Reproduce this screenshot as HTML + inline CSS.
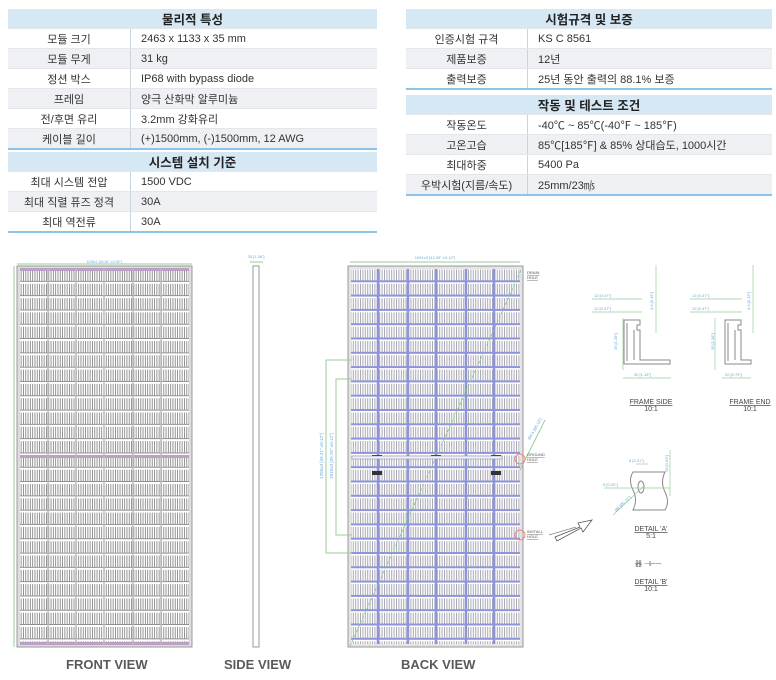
<!DOCTYPE html>
<html><head><meta charset="utf-8"><style>
body{margin:0;width:776px;height:680px;background:#fff;font-family:"Liberation Sans","Noto Sans CJK KR",sans-serif;position:relative;overflow:hidden}
table{position:absolute;border-collapse:collapse;font-size:11px;color:#333}
td{height:19px;padding:0;}
td.k{text-align:center;border-right:1px solid #c8d3dc}
td.v{padding-left:10px}
tr.s td{background:#eef0f3}
tr.h td{background:#d6e8f4;text-align:center;font-weight:bold;font-size:12.5px;height:19px;color:#222}
tr td{border-bottom:1px solid #e3e6ea}
tr.last td{border-bottom:2px solid #8cc3e6}
.lbl{position:absolute;font-weight:bold;font-size:13px;color:#5a5a5a;top:657px}
</style></head><body>
<table style="left:8px;top:9px;width:369px">
<tr class="h"><td colspan="2">물리적 특성</td></tr>
<tr><td class="k" style="width:122px">모듈 크기</td><td class="v">2463 x 1133 x 35 mm</td></tr>
<tr class="s"><td class="k">모듈 무게</td><td class="v">31 kg</td></tr>
<tr><td class="k">정션 박스</td><td class="v">IP68 with bypass diode</td></tr>
<tr class="s"><td class="k">프레임</td><td class="v">양극 산화막 알루미늄</td></tr>
<tr><td class="k">전/후면 유리</td><td class="v">3.2mm 강화유리</td></tr>
<tr class="s last"><td class="k">케이블 길이</td><td class="v">(+)1500mm, (-)1500mm, 12 AWG</td></tr>
</table>
<table style="left:8px;top:152px;width:369px">
<tr class="h"><td colspan="2">시스템 설치 기준</td></tr>
<tr><td class="k" style="width:122px">최대 시스템 전압</td><td class="v">1500 VDC</td></tr>
<tr class="s"><td class="k">최대 직렬 퓨즈 정격</td><td class="v">30A</td></tr>
<tr class="last"><td class="k">최대 역전류</td><td class="v">30A</td></tr>
</table>
<table style="left:406px;top:9px;width:366px">
<tr class="h"><td colspan="2">시험규격 및 보증</td></tr>
<tr><td class="k" style="width:121px">인증시험 규격</td><td class="v">KS C 8561</td></tr>
<tr class="s"><td class="k">제품보증</td><td class="v">12년</td></tr>
<tr class="last"><td class="k">출력보증</td><td class="v">25년 동안 출력의 88.1% 보증</td></tr>
</table>
<table style="left:406px;top:95px;width:366px">
<tr class="h"><td colspan="2">작동 및 테스트 조건</td></tr>
<tr><td class="k" style="width:121px">작동온도</td><td class="v">-40℃ ~ 85℃(-40℉ ~ 185℉)</td></tr>
<tr class="s"><td class="k">고온고습</td><td class="v">85℃[185℉] &amp; 85% 상대습도, 1000시간</td></tr>
<tr><td class="k">최대하중</td><td class="v">5400 Pa</td></tr>
<tr class="s last"><td class="k">우박시험(지름/속도)</td><td class="v">25mm/23㎧</td></tr>
</table>

<svg width="776" height="680" style="position:absolute;left:0;top:0" xmlns="http://www.w3.org/2000/svg">
<defs>
<pattern id="fv" width="2.3" height="14.3" patternUnits="userSpaceOnUse" y="268">
<rect width="2.3" height="14.3" fill="#fff"/><rect width="0.9" height="11.5" y="1.5" fill="#8a8a8a"/><rect width="2.3" height="0.8" y="13" fill="#777"/>
</pattern>
<pattern id="bv" width="2.4" height="14.3" patternUnits="userSpaceOnUse" y="268">
<rect width="2.4" height="14.3" fill="#fff"/><rect width="1" height="11.5" y="1.5" fill="#a8a8b2"/><rect width="2.4" height="2" y="12.3" fill="#8f94d8"/>
</pattern>
</defs>
<line x1="17" y1="264" x2="192" y2="264" stroke="#9c9" stroke-width="1"/>
<line x1="14" y1="266" x2="14" y2="647" stroke="#9c9"/>
<text x="104" y="263" font-size="3.5" fill="#6ad" text-anchor="middle">1133±2 [44.61" ±0.08"]</text>
<rect x="17" y="266" width="175" height="381" fill="#ddd" stroke="#999"/>
<rect x="20" y="269" width="169" height="375" fill="url(#fv)"/>
<rect x="20" y="268" width="169" height="3" fill="#b9a0c4"/>
<rect x="20" y="455" width="169" height="3" fill="#b9a0c4"/>
<rect x="20" y="642" width="169" height="3" fill="#b9a0c4"/>
<g stroke="#bbb" stroke-width="1.5"><line x1="48" y1="269" x2="48" y2="644"/><line x1="76" y1="269" x2="76" y2="644"/><line x1="104" y1="269" x2="104" y2="644"/><line x1="133" y1="269" x2="133" y2="644"/><line x1="161" y1="269" x2="161" y2="644"/></g>
<rect x="253" y="266" width="6" height="381" fill="#fff" stroke="#999"/>
<text x="256" y="258" font-size="4" fill="#6ad" text-anchor="middle">35 [1.38"]</text>
<line x1="250" y1="262" x2="263" y2="262" stroke="#9c9"/>
<line x1="350" y1="262" x2="520" y2="262" stroke="#9c9"/>
<text x="435" y="259" font-size="4" fill="#6ad" text-anchor="middle">1091±3 [42.95" ±0.12"]</text>
<rect x="348" y="266" width="175" height="381" fill="#e4e4e8" stroke="#999"/>
<rect x="351" y="269" width="169" height="375" fill="url(#bv)"/>
<g stroke="#8f94d8" stroke-width="2.5"><line x1="378" y1="269" x2="378" y2="644"/><line x1="408" y1="269" x2="408" y2="644"/><line x1="436" y1="269" x2="436" y2="644"/><line x1="466" y1="269" x2="466" y2="644"/><line x1="494" y1="269" x2="494" y2="644"/></g>
<line x1="350" y1="646" x2="522" y2="268" stroke="#7c7" stroke-dasharray="3 2" stroke-width="0.8"/>
<line x1="520" y1="470" x2="545" y2="420" stroke="#9c9"/>
<text x="530" y="440" font-size="4" fill="#6ad" transform="rotate(-60 530 440)">Ø4.5 [Ø0.18"]</text>
<g stroke="#9c9" fill="none"><polyline points="352,360 326,360 326,553 352,553"/><polyline points="352,379 336,379 336,535 352,535"/></g>
<text x="323" y="456" font-size="4.5" fill="#6ad" transform="rotate(-90 323 456)" text-anchor="middle">1250±3 [49.21" ±0.12"]</text>
<text x="333" y="456" font-size="4.5" fill="#6ad" transform="rotate(-90 333 456)" text-anchor="middle">1010±3 [39.76" ±0.12"]</text>
<g fill="#333"><rect x="372" y="455" width="10" height="4"/><rect x="431" y="455" width="10" height="4"/><rect x="491" y="455" width="10" height="4"/><rect x="372" y="471" width="10" height="4"/><rect x="491" y="471" width="10" height="4"/></g>
<rect x="352" y="456" width="150" height="3" fill="#eef" stroke="#888" stroke-width="0.5"/>
<circle cx="520" cy="459" r="5" fill="none" stroke="#e87" />
<circle cx="520" cy="535" r="5" fill="none" stroke="#e87"/>
<g font-size="4" fill="#555" text-decoration="underline"><text x="527" y="274">DRAIN</text><text x="527" y="279">HOLE</text><text x="527" y="456">GROUND</text><text x="527" y="461">HOLE</text><text x="527" y="533">INSTALL</text><text x="527" y="538">HOLE</text></g>
<line x1="549" y1="535" x2="576" y2="527" stroke="#555" stroke-width="0.6"/>
<polygon points="555,537 580,527 578,523 592,520 583,532 581,528 557,541" fill="none" stroke="#555" stroke-width="0.8"/>
<g stroke="#888" fill="none" stroke-width="1"><path d="M624,320 h16 v5 h-3 v5 h3 v30 h30 v4 h-46 z"/><path d="M627,323 v38 M634,330 v30"/></g>
<g stroke="#9c9" fill="none" stroke-width="0.7"><line x1="623" y1="318" x2="623" y2="370"/><line x1="623" y1="378" x2="671" y2="378"/><line x1="592" y1="299" x2="642" y2="299"/><line x1="592" y1="312" x2="642" y2="312"/><line x1="656" y1="265" x2="656" y2="333"/></g>
<g font-size="4" fill="#6ad"><text x="594" y="297">12 [0.47"]</text><text x="594" y="310">12 [0.47"]</text><text x="634" y="376">30 [1.18"]</text><text x="617" y="350" transform="rotate(-90 617 350)">35 [1.38"]</text><text x="653" y="310" transform="rotate(-90 653 310)">4.9 [0.19"]</text></g>
<g stroke="#888" fill="none" stroke-width="1"><path d="M725,320 h16 v5 h-3 v5 h3 v30 h10 v4 h-26 z"/><path d="M728,323 v38 M735,330 v30"/></g>
<g stroke="#9c9" fill="none" stroke-width="0.7"><line x1="715" y1="318" x2="715" y2="370"/><line x1="722" y1="378" x2="751" y2="378"/><line x1="690" y1="299" x2="742" y2="299"/><line x1="690" y1="312" x2="742" y2="312"/><line x1="753" y1="265" x2="753" y2="333"/></g>
<g font-size="4" fill="#6ad"><text x="692" y="297">12 [0.47"]</text><text x="692" y="310">12 [0.47"]</text><text x="725" y="376">20 [0.79"]</text><text x="714" y="350" transform="rotate(-90 714 350)">35 [1.38"]</text><text x="750" y="310" transform="rotate(-90 750 310)">4.9 [0.19"]</text></g>
<g font-size="7" fill="#444" text-anchor="middle"><text x="651" y="404" text-decoration="underline">FRAME SIDE</text><text x="651" y="411">10:1</text>
<text x="750" y="404" text-decoration="underline">FRAME END</text><text x="750" y="411">10:1</text>
<text x="651" y="531" text-decoration="underline">DETAIL 'A'</text><text x="651" y="538">5:1</text>
<text x="651" y="584" text-decoration="underline">DETAIL 'B'</text><text x="651" y="591">10:1</text></g>
<path d="M633,472 h32 q-5,10 0,20 q5,10 0,18 h-32 q5,-10 0,-20 q-5,-10 0,-18 z" fill="none" stroke="#888"/>
<ellipse cx="641" cy="487" rx="3" ry="6" fill="none" stroke="#888"/>
<g stroke="#9c9" stroke-width="0.7"><line x1="604" y1="488" x2="670" y2="488"/><line x1="670" y1="450" x2="670" y2="496"/><line x1="613" y1="515" x2="645" y2="485"/><line x1="636" y1="464" x2="648" y2="464"/></g>
<g font-size="4" fill="#6ad"><text x="603" y="486">5 [0.20"]</text><text x="629" y="462">8 [0.31"]</text><text x="668" y="472" transform="rotate(-90 668 472)">16 [0.63"]</text><text x="616" y="512" transform="rotate(-43 616 512)">Ø8 [Ø0.31"]</text></g>
<text x="635" y="566" font-size="7" fill="#555">器 ⊣⊢─</text>
</svg>
<div class="lbl" style="left:66px">FRONT VIEW</div>
<div class="lbl" style="left:224px">SIDE VIEW</div>
<div class="lbl" style="left:401px">BACK VIEW</div>
</body></html>
